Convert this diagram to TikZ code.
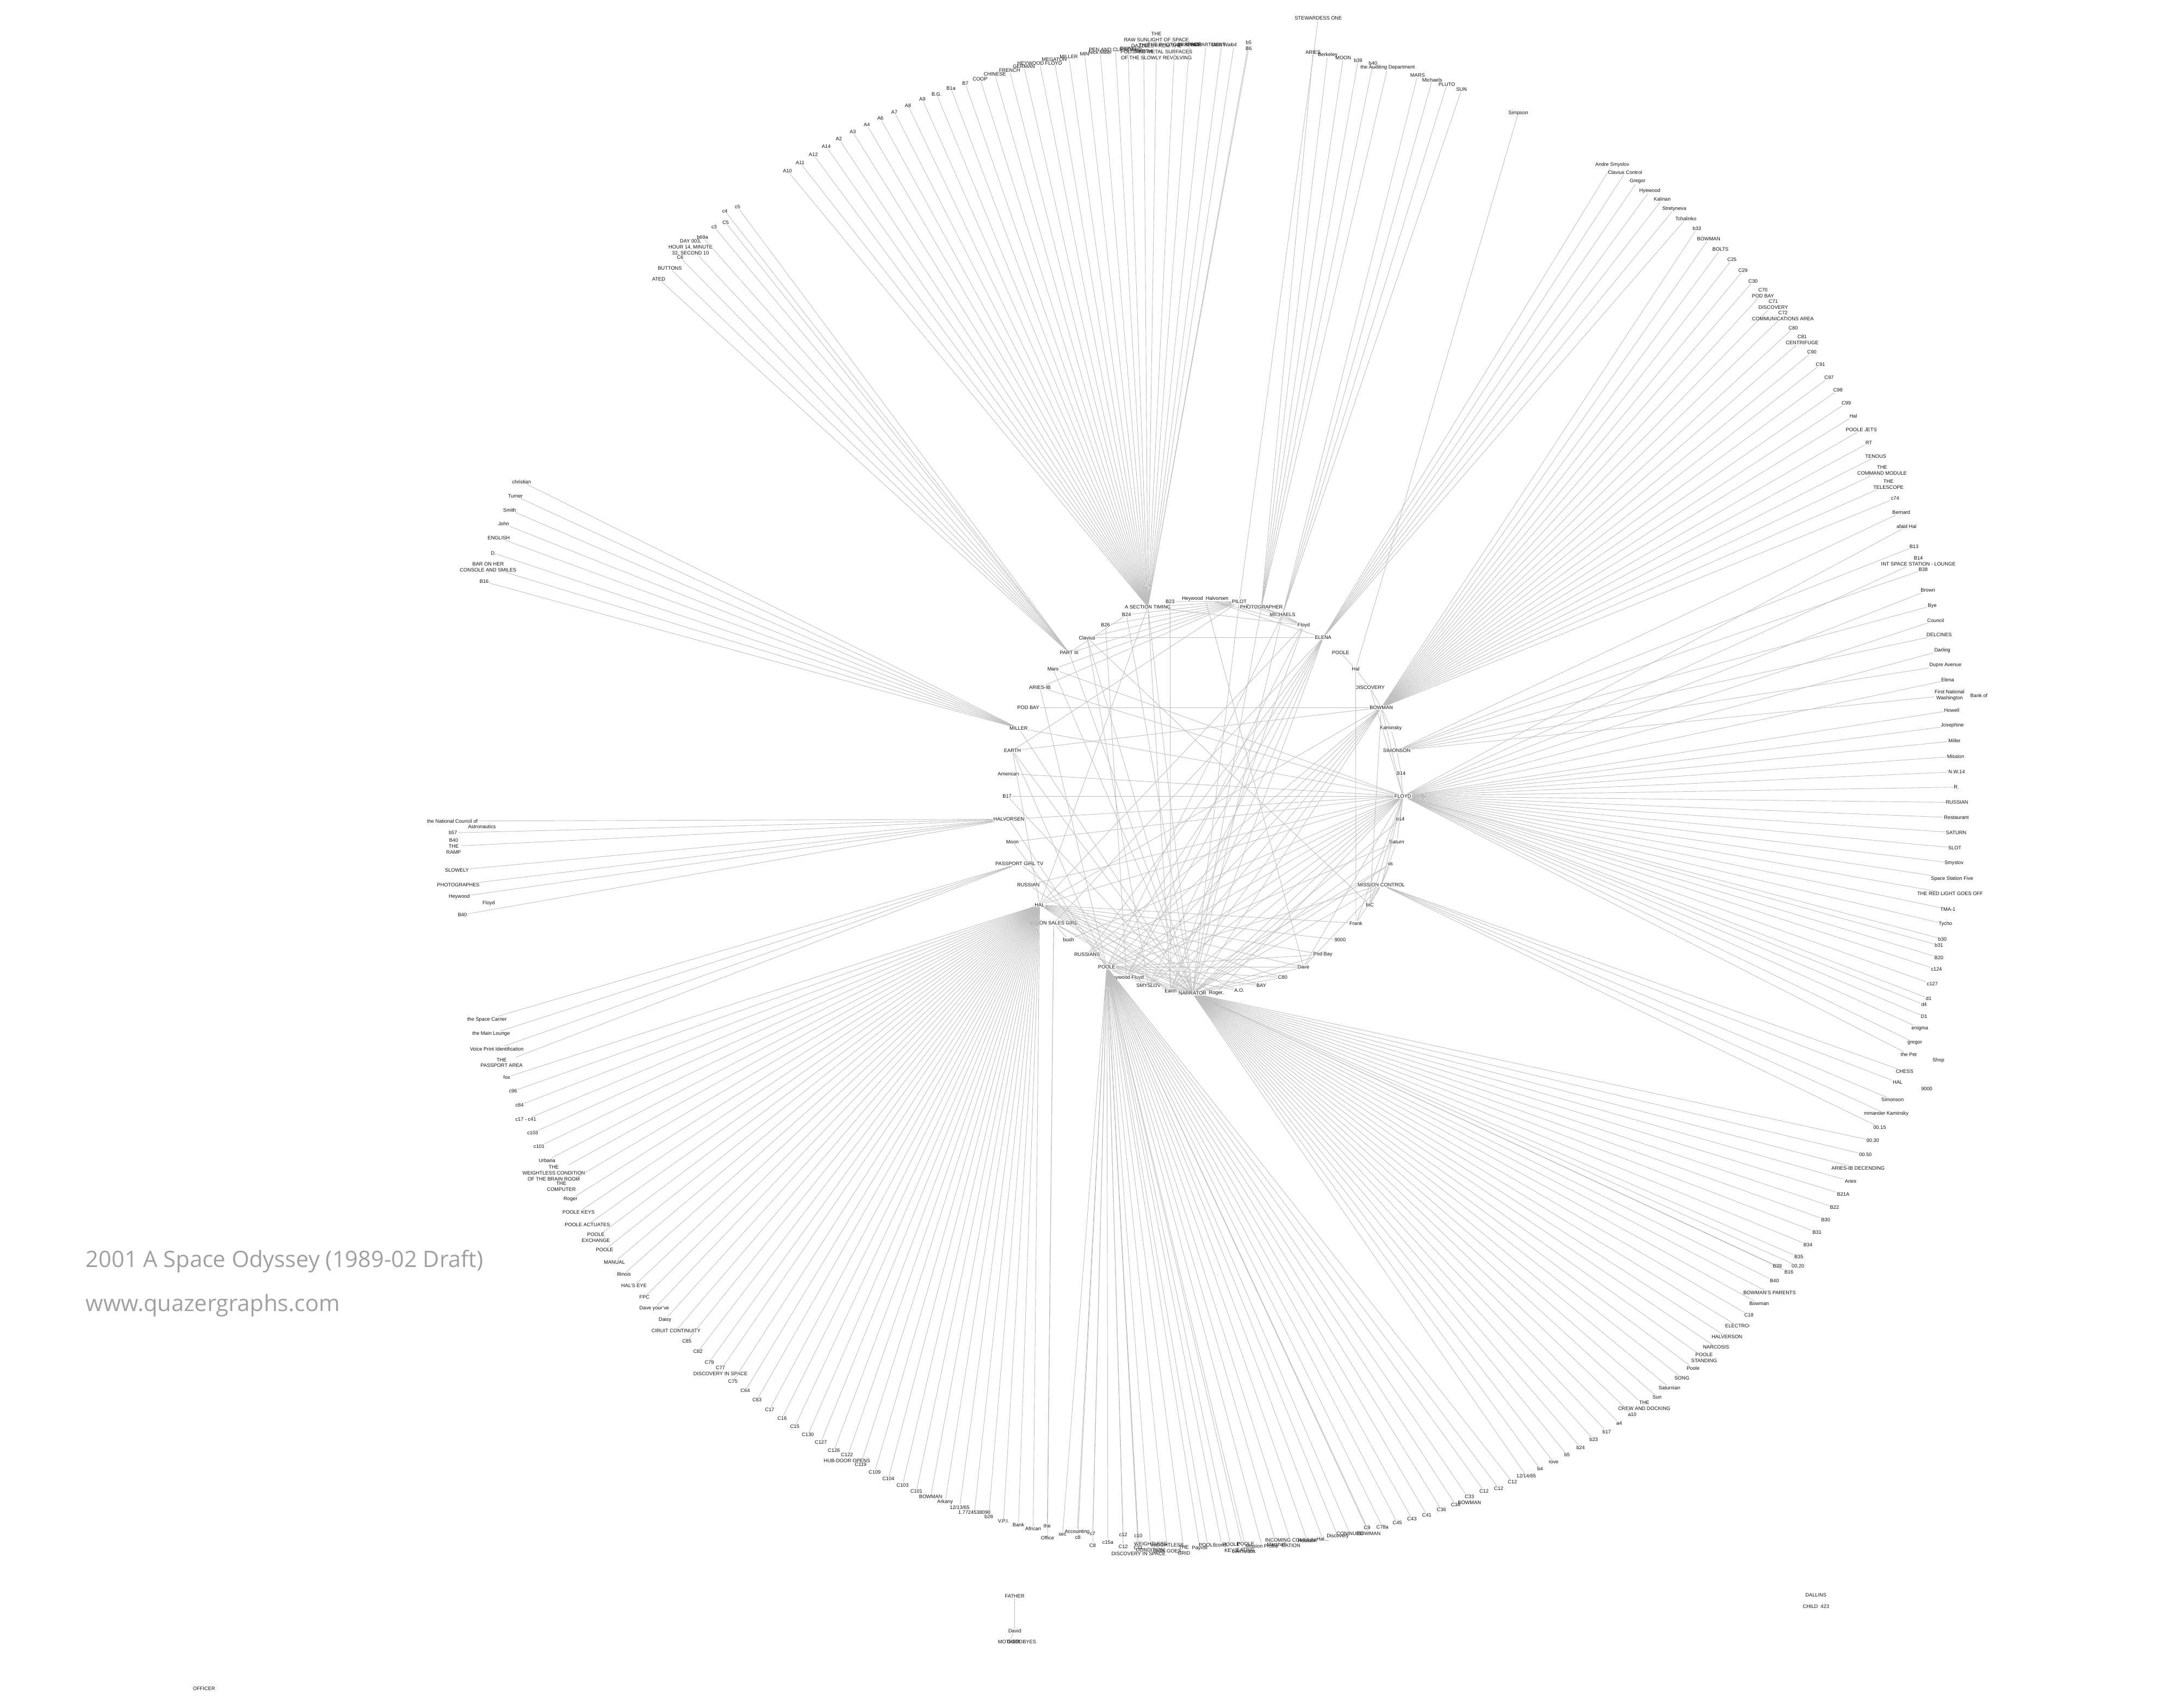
\documentclass[tikz,border=0pt]{standalone}
\usepackage{fontspec}
\setmainfont{Liberation Sans}
\newfontfamily\titlefont{Open Sans}
\definecolor{edgec}{RGB}{190,190,190}
\definecolor{labc}{RGB}{20,20,20}
\definecolor{titc}{RGB}{160,160,160}
\newcommand\lblfont{\fontsize{3.65}{4.3}\selectfont}
\tikzset{
  lbl/.style={font=\lblfont, inner sep=0.3pt, align=center, text=labc},
  edge/.style={draw=edgec, line width=0.35pt},
  ttl/.style={font=\titlefont\fontsize{16.4}{19}\selectfont, text=titc, anchor=west, inner sep=0pt}
}
\newcommand\fan[3]{%
  \foreach \x/\y/\txt [count=\nn] in {#3} {%
    \node[lbl] (#1\nn) at (\x,\y) {\txt};
    \draw[edge] (#1\nn) -- (#2);
  }%
}
\begin{document}
\begin{tikzpicture}[x=1pt,y=-1pt]
\useasboundingbox (0,0) rectangle (1568,1239);

% ---------------- inner circle hubs ----------------
\foreach \n/\x/\y/\txt in {
 hHH/874.1/434.5/{Heywood\ \ Halvorsen}, hPILOT/898.8/436.5/{PILOT}, hPHOTO/914.8/440.2/{PHOTOGRAPHER},
 hMICH/930.1/446.0/{MICHAELS}, hFloyd/945.5/453.6/{Floyd}, hELENA/959.6/462.6/{ELENA},
 hPOOLEt/972.3/473.6/{POOLE}, hHal/983.2/485.4/{Hal}, hDISC/993.5/498.7/{DISCOVERY},
 hBOW/1001.8/513.3/{BOWMAN}, hKAM/1008.7/528.3/{Kaminsky}, hSIM/1013.0/544.5/{SIMONSON},
 hB14/1016.1/561.2/{B14}, hFLOYD/1017.4/577.5/{FLOYD}, hb14/1015.6/594.3/{b14},
 hSat/1013.0/610.6/{Saturn}, hus/1008.3/626.8/{us}, hMISS/1001.8/641.9/{MISSION CONTROL},
 hMC/993.5/656.4/{MC}, hFrank/983.4/669.7/{Frank}, h9000/971.9/681.9/{9000},
 hPodBay/959.4/692.5/{Pod Bay}, hDave/945.3/701.6/{Dave}, hCeighty/930.3/709.1/{C80},
 hBAY/914.8/715.0/{BAY}, hAO/898.8/718.6/{A.O.}, hRoger/882.1/720.5/{Roger.},
 hNARR/864.8/720.5/{NARRATOR}, hEarth/849.0/718.6/{Earth}, hSMY/833.0/715.0/{SMYSLOV},
 hHF/817.0/709.1/{Heywood Floyd}, hPOOLE/802.7/701.6/{POOLE}, hRUSSIANS/788.4/692.5/{RUSSIANS},
 hbush/775.0/681.9/{bush}, hVSG/764.2/669.7/{VISION SALES GIRL}, hHAL/754.0/656.4/{HAL},
 hRUSSIAN/745.8/641.9/{RUSSIAN}, hPGTV/739.3/626.5/{PASSPORT GIRL TV}, hMoon/734.3/610.6/{Moon},
 hHALV/731.7/594.3/{HALVORSEN}, hBseventeen/730.4/577.5/{B17}, hAmer/731.3/561.2/{American},
 hEARTH/734.3/544.5/{EARTH}, hMILLER/738.8/528.3/{MILLER}, hPODBAY/745.8/513.3/{POD BAY},
 hARIES/754.2/498.7/{ARIES-IB}, hMars/763.7/485.4/{Mars}, hPART/775.4/473.6/{PART III},
 hClav/788.4/462.6/{Clavius}, hBtwentysix/801.8/453.4/{B26}, hBtwentyfour/817.0/446.0/{B24},
 hAST/832.5/440.2/{A SECTION TIMING}, hBtwentythree/848.6/436.3/{B23}}
 {\node[lbl] (\n) at (\x,\y) {\txt};}

% ---------------- inner edges ----------------
\foreach \a/\b in {
 hPODBAY/hBOW, hClav/hELENA, hBseventeen/hFLOYD, hPOOLE/hDave, hEARTH/hBOW, hAmer/hFLOYD,
 hMILLER/hFLOYD, hHALV/hFLOYD, hMoon/hFLOYD, hRUSSIAN/hFLOYD, hMars/hFLOYD, hARIES/hFLOYD,
 hHAL/hFrank, hHAL/h9000, hHAL/hPodBay, hHAL/hDave, hHAL/hCeighty, hHAL/hBAY, hHAL/hAO,
 hHAL/hNARR, hHAL/hBOW, hHAL/hEarth, hHAL/hRoger,
 hPILOT/hBtwentythree, hPILOT/hAST, hPILOT/hBtwentyfour, hPILOT/hBtwentysix, hPILOT/hClav,
 hPILOT/hPART, hPILOT/hMars, hPILOT/hARIES, hPILOT/hFloyd, hPILOT/hMICH, hPILOT/hNARR, hPILOT/hEARTH,
 hHH/hFloyd, hHH/hELENA, hHH/hDave,
 hPHOTO/hFloyd, hMICH/hFloyd, hPHOTO/hMICH, hPHOTO/hNARR, hMICH/hNARR, hMICH/hPOOLE,
 hAST/hFloyd, hAST/hNARR, hAST/hEarth, hAST/hHAL,
 hClav/hNARR, hClav/hSMY, hClav/hMC,
 hELENA/hNARR, hELENA/hEarth, hELENA/hPOOLE, hELENA/hSMY, hELENA/hHF, hELENA/hRUSSIANS, hELENA/hVSG,
 hFloyd/hEarth, hFloyd/hHF, hFloyd/hHAL,
 hPOOLEt/hHal, hHal/hDISC, hDISC/hBOW, hBOW/hKAM, hKAM/hSIM, hSIM/hB14, hB14/hFLOYD,
 hHal/hFrank, hDISC/hFLOYD,
 hBOW/hNARR, hBOW/hPOOLE, hBOW/hEarth, hBOW/hSMY, hBOW/hHF, hBOW/hRUSSIANS, hBOW/hFLOYD, hBOW/hMC,
 hFLOYD/hNARR, hFLOYD/hHF, hFLOYD/hSMY, hFLOYD/hEarth, hFLOYD/hRUSSIANS, hFLOYD/hDave,
 hFLOYD/hMC, hFLOYD/hFrank, hFLOYD/hb14, hFLOYD/hSat, hFLOYD/hPOOLE, hFLOYD/hbush,
 hFLOYD/hHAL, hFLOYD/hMISS, hFLOYD/hRoger,
 hMISS/hus, hMISS/hSat, hMISS/hPOOLE, hMISS/hNARR, hMISS/hFrank, hMISS/hDave, hMISS/hMC,
 hSat/hPOOLE, hSat/hNARR, hus/hNARR, hus/hEarth, hb14/hNARR,
 hPOOLE/hHF, hPOOLE/hSMY, hPOOLE/hBAY, hPOOLE/hCeighty, hPOOLE/hPodBay, hPOOLE/hAO, hPOOLE/hNARR,
 hVSG/hbush, hVSG/hNARR, hVSG/hEarth,
 hEARTH/hHAL, hEARTH/hNARR, hEARTH/hPOOLE,
 hPART/hNARR, hPART/hBtwentyfour, hBtwentythree/hEarth, hBtwentysix/hHF, hBtwentyfour/hNARR,
 hMILLER/hNARR, hMars/hNARR, hARIES/hPOOLE, hBseventeen/hNARR, hMoon/hPOOLE, hRUSSIAN/hNARR,
 hHALV/hPOOLE, hPGTV/hNARR, hRUSSIANS/hNARR, hSMY/hNARR, hHF/hNARR, hNARR/hDave,
 hNARR/hPodBay, hNARR/hCeighty}
 {\draw[edge] (\a) -- (\b);}

% ---------------- fans ----------------
\fan{tl}{hPART}{477.7/202.3/{ATED}, 485.8/194.6/{BUTTONS}, 493.3/186.9/{C6},
 500.8/179.3/{DAY 003,\\HOUR 14, MINUTE\\32, SECOND 10}, 509.5/171.9/{b69a}, 517.9/164.6/{c3},
 526.3/161.5/{C5}, 525.7/153.0/{c4}, 534.9/150.2/{c5}}

\fan{ta}{hAST}{571.1/123.9/{A10}, 580.3/118.1/{A11}, 589.9/112.2/{A12}, 599.2/106.3/{A14},
 608.4/100.8/{A2}, 618.5/95.7/{A3}, 628.7/90.6/{A4}, 638.5/85.8/{A6}, 648.6/81.2/{A7},
 658.5/76.5/{A8}, 668.9/72.0/{A9}, 679.3/68.3/{B.G.}, 689.7/64.1/{B1a}, 700.1/60.6/{B7},
 710.8/57.2/{COOP}, 721.5/53.9/{CHINESE}, 732.2/51.2/{FRENCH}, 742.6/48.3/{GERMAN},
 754.0/45.8/{HEYWOOD FLOYD}, 764.6/43.2/{MEGATON}, 775.1/41.0/{MILLER}, 786.6/39.2/{MIN},
 797.9/37.9/{Nick Miller}, 809.0/36.1/{PEN AND CLIPBOARD}, 818.0/35.4/{DYING},
 829.5/35.0/{THE\\EARTH}, 838.7/33.2/{THE\\RAW SUNLIGHT OF SPACE\\DAZZLES FROM THE\\POLISHED METAL SURFACES\\OF THE SLOWLY REVOLVING},
 851.9/32.6/{THE PHOTOGRAPHER}, 862.6/32.6/{IN SPACE}, 874.7/32.6/{COMPARTMENT},
 886.0/32.6/{Cold War}, 895.0/32.6/{b4}, 905.6/30.8/{b5}, 905.6/35.2/{B6}}

\fan{st}{hPILOT}{956.1/13.2/{STEWARDESS ONE}}
\fan{tr}{hPHOTO}{952.3/38.1/{ARIES}, 962.9/39.7/{Berkeley}, 974.2/41.8/{MOON}, 985.0/43.7/{b39},
 995.8/46.0/{b40}, 1006.4/48.9/{the Auditing Department}}
\fan{tm}{hMICH}{1028.1/54.6/{MARS}, 1038.7/57.9/{Michaels}, 1049.3/61.4/{PLUTO}, 1060.0/65.0/{SUN}}
\fan{sp}{hHal}{1101.1/81.9/{Simpson}}

\fan{el}{hELENA}{1169.3/119.5/{Andre Smyslov}, 1178.6/125.3/{Clavius Control}, 1187.6/131.6/{Gregor},
 1196.5/138.4/{Hyewood}, 1205.5/144.6/{Kalinan}, 1214.2/151.6/{Stretyneva}, 1222.7/158.7/{Tchalinko}}

\fan{bw}{hBOW}{1230.7/165.9/{b33}, 1239.2/173.4/{BOWMAN}, 1247.8/180.9/{BOLTS}, 1256.1/188.4/{C25},
 1264.1/196.3/{C29}, 1271.4/204.1/{C30}, 1278.6/212.5/{C70\\POD BAY}, 1286.1/221.0/{C71\\DISCOVERY},
 1293.1/229.2/{C72\\COMMUNICATIONS AREA}, 1300.5/238.1/{C80}, 1307.0/246.6/{C81\\CENTRIFUGE},
 1314.1/255.5/{C90}, 1320.3/264.5/{C91}, 1326.5/273.9/{C97}, 1333.0/283.1/{C98}, 1339.0/292.5/{C99},
 1344.1/301.9/{Hal}, 1349.9/311.8/{POOLE JETS}, 1355.3/321.2/{RT}, 1360.4/331.2/{TENOUS},
 1365.0/341.3/{THE\\COMMAND MODULE}, 1369.6/351.5/{THE\\TELESCOPE}, 1374.4/361.6/{c74}}

\fan{sm}{hSIM}{1378.9/371.7/{Bernard}, 1388.1/396.6/{B13}, 1394.8/413.3/{B38}, 1401.4/439.4/{Bye},
 1406.4/460.6/{DELCINES}, 1410.9/482.7/{Dupre Avenue}, 1413.9/504.4/{First National\\Washington}}

\fan{fl}{hFLOYD}{1382.7/382.1/{afaid Hal}, 1391.3/407.2/{B14\\INT SPACE STATION - LOUNGE},
 1398.2/428.3/{Brown}, 1403.8/450.0/{Council}, 1408.7/471.8/{Darling}, 1412.5/493.3/{Elena},
 1415.5/515.3/{Howell}, 1415.9/526.4/{Josephine}, 1417.5/537.5/{Miller}, 1418.3/548.6/{Mission},
 1419.1/559.9/{N.W.14}, 1418.9/571.0/{R.}, 1419.3/582.1/{RUSSIAN}, 1418.9/593.2/{Restaurant},
 1418.7/604.0/{SATURN}, 1417.7/615.1/{SLOT}, 1417.1/626.2/{Smyslov}, 1415.7/637.3/{Space Station Five},
 1414.3/648.4/{THE RED LIGHT GOES OFF}, 1412.7/659.5/{TMA-1}, 1410.9/670.4/{Tycho},
 1408.7/681.2/{b30}, 1406.2/685.8/{b31}, 1406.2/694.6/{B20}, 1404.4/703.2/{c124},
 1401.4/713.8/{c127}, 1398.8/724.3/{d1}, 1395.4/728.8/{d4}, 1395.4/737.4/{D1},
 1392.4/745.8/{enigma}, 1388.7/756.4/{gregor}, 1384.3/764.8/{the Pet}}

\fan{mc}{hMISS}{1381.3/777.2/{CHESS}, 1376.3/785.2/{HAL}, 1372.6/797.8/{Simonson},
 1368.0/808.0/{mmander Kaminsky}, 1363.2/817.8/{00.15}}

\fan{na}{hNARR}{1358.2/827.5/{00.30}, 1352.9/837.6/{00.50}, 1347.6/847.5/{ARIES-IB DECENDING},
 1342.1/856.9/{Aries}, 1336.8/866.4/{B21A}, 1330.5/875.9/{B22}, 1324.1/884.9/{B30},
 1317.8/894.0/{B31}, 1311.2/903.0/{B34}, 1304.6/911.9/{B35}, 1304.0/918.5/{00.20},
 1297.4/922.8/{B16}, 1289.0/918.5/{B39}, 1286.9/929.2/{B40}, 1283.4/937.9/{BOWMAN'S PARENTS},
 1275.8/945.7/{Bowman}, 1268.4/954.0/{C18}, 1260.4/962.0/{ELECTRO-}, 1252.5/969.9/{HALVERSON},
 1244.6/977.3/{NARCOSIS}, 1235.9/984.9/{POOLE\\STANDING}, 1227.9/992.4/{Poole}, 1219.8/999.5/{SONG},
 1210.8/1006.7/{Saturnian}, 1201.8/1013.3/{Sun}, 1192.5/1019.5/{THE\\CREW AND DOCKING},
 1183.8/1026.2/{a10}, 1174.3/1032.3/{a4}, 1165.3/1038.5/{b17}, 1155.8/1044.3/{b23},
 1146.3/1050.0/{b24}, 1136.5/1055.4/{b5}, 1126.7/1060.7/{rove}, 1117.0/1065.7/{b4},
 1106.9/1070.5/{12/14/65}}

\fan{po}{hPOOLE}{1096.9/1075.1/{C12}, 1086.9/1079.6/{C12}, 1076.3/1081.6/{C12},
 1065.7/1087.9/{C33\\BOWMAN}, 1055.7/1091.7/{C34}, 1045.4/1095.3/{C36}, 1034.8/1098.9/{C41},
 1024.0/1101.9/{C43}, 1013.4/1104.7/{C45}, 1002.6/1107.6/{C78a}, 991.5/1108.0/{C9},
 992.8/1112.4/{BOWMAN}, 979.0/1112.4/{CONINUED}, 970.2/1114.4/{Discovery}, 959.3/1116.4/{Hal...},
 948.1/1117.7/{Houston}, 936.3/1119.2/{INCOMING COMMUNI\\CATION}, 925.7/1120.3/{Marshall},
 915.2/1121.4/{Mission Profile}, 903.4/1122.3/{POOLE\\EATING}, 902.0/1125.6/{overheads},
 892.9/1122.7/{POOLE\\KEYS}, 886.0/1120.6/{cond.}, 875.8/1120.6/{POOLE}, 870.1/1123.0/{Payroll},
 858.6/1124.6/{THE\\GRID}, 846.5/1123.0/{WEIGHTLESS\\SIGN GOES}, 834.5/1122.0/{WEIGHTLESS\\CONDITION'},
 825.7/1127.2/{DISCOVERY IN SPACE}, 825.5/1122.6/{C11}, 825.5/1114.2/{c10}, 814.6/1121.9/{C12},
 814.6/1113.1/{c12}, 803.5/1118.8/{c15a}, 792.4/1121.3/{C8}, 792.4/1112.7/{c7},
 781.7/1115.1/{c8}, 781.2/1111.2/{Accounting}, 770.6/1113.3/{sec}}

\fan{vs}{hVSG}{759.5/1106.8/{the}, 759.7/1115.5/{Office}}

\fan{ha}{hHAL}{367.6/781.4/{fox}, 372.1/791.5/{c96}, 376.8/801.7/{c84}, 381.3/812.1/{c17 - c41},
 386.3/821.8/{c103}, 391.0/831.7/{c101}, 396.7/841.7/{Urbana},
 401.6/851.0/{THE\\WEIGHTLESS CONDITION\\OF THE BRAIN ROOM}, 407.1/860.8/{THE\\COMPUTER},
 413.7/870.0/{Roger}, 419.6/879.3/{POOLE KEYS}, 426.0/888.5/{POOLE ACTUATES},
 432.2/897.7/{POOLE\\EXCHANGE}, 438.5/906.7/{POOLE}, 445.6/915.5/{MANUAL}, 452.5/924.2/{Illinois},
 459.8/932.7/{HAL'S EYE}, 467.4/941.0/{FPC}, 474.5/949.3/{Dave your've}, 482.3/957.3/{Daisy},
 490.3/965.2/{CIRUIT CONTINUITY}, 498.1/972.9/{C85}, 506.2/980.5/{C82}, 514.4/988.1/{C79},
 522.5/994.2/{C77\\DISCOVERY IN SPACE}, 531.5/1002.2/{C75}, 540.5/1008.9/{C64}, 549.0/1015.5/{C63},
 558.2/1022.4/{C17}, 567.2/1028.7/{C16}, 576.4/1034.9/{C15}, 585.9/1040.8/{C130},
 595.3/1046.2/{C127}, 604.8/1052.2/{C126}, 614.3/1057.6/{C122\\HUB-DOOR OPENS},
 624.2/1062.6/{C119}, 634.4/1067.8/{C109}, 644.3/1072.5/{C104}, 654.6/1077.2/{C103},
 664.6/1081.6/{C101}, 675.0/1085.5/{BOWMAN}, 685.4/1089.6/{Arkany}, 696.0/1093.4/{12/13/65},
 706.7/1097.0/{1.7724538090}, 717.1/1100.1/{b28}, 727.8/1103.3/{V.P.I.}, 738.6/1106.2/{Bank},
 749.3/1109.1/{African}}

\fan{pg}{hPGTV}{353.2/739.5/{the Space Carrier}, 356.2/750.1/{the Main Lounge},
 360.3/760.8/{Voice Print Identification}, 363.8/770.9/{THE\\PASSPORT AREA}}

\fan{mi}{hMILLER}{378.3/349.4/{christian}, 373.8/359.8/{Turner}, 369.6/369.9/{Smith}, 365.3/380.1/{John},
 361.7/390.2/{ENGLISH}, 357.9/401.2/{D.}, 354.0/411.3/{BAR ON HER\\CONSOLE AND SMILES}, 351.1/421.9/{B16}}

\fan{hv}{hHALV}{328.1/595.6/{the National Council of}, 328.5/604.1/{b57}, 329.0/613.8/{B40\\THE\\RAMP},
 331.4/631.1/{SLOWELY}, 332.4/641.9/{PHOTOGRAPHES}, 333.1/650.5/{Heywood}, 335.3/663.6/{B40}}

% extra text fragments
\node[lbl] (xA) at (349.5,599.8) {Astronautics};
\node[lbl] (xB) at (354.4,655.2) {Floyd};
\node[lbl] (xC) at (1435.2,504.4) {Bank of};
\node[lbl] (xD) at (1405.8,769.1) {Shop};
\node[lbl] (xE) at (1397.4,789.9) {9000};

% separate components
\node[lbl] (fa) at (735.9,1157.8) {FATHER};
\node[lbl] (da) at (735.9,1183.1) {David};
\node[lbl] (mo) at (731.7,1191.0) {MOTHER};
\node[lbl] (gb) at (741.0,1191.0) {GOODBYES};
\draw[edge] (fa) -- (da);
\draw[edge] (da) -- (mo);
\node[lbl] (dl) at (1317,1157) {DALLINS};
\node[lbl] (ch) at (1317,1165.5) {CHILD\ \ 423};
\node[lbl] (of) at (148,1225) {OFFICER};

% title
\node[ttl] (t1) at (62,915) {2001 A Space Odyssey (1989-02 Draft)};
\node[ttl] (t2) at (62,947) {www.quazergraphs.com};
\end{tikzpicture}
\end{document}
